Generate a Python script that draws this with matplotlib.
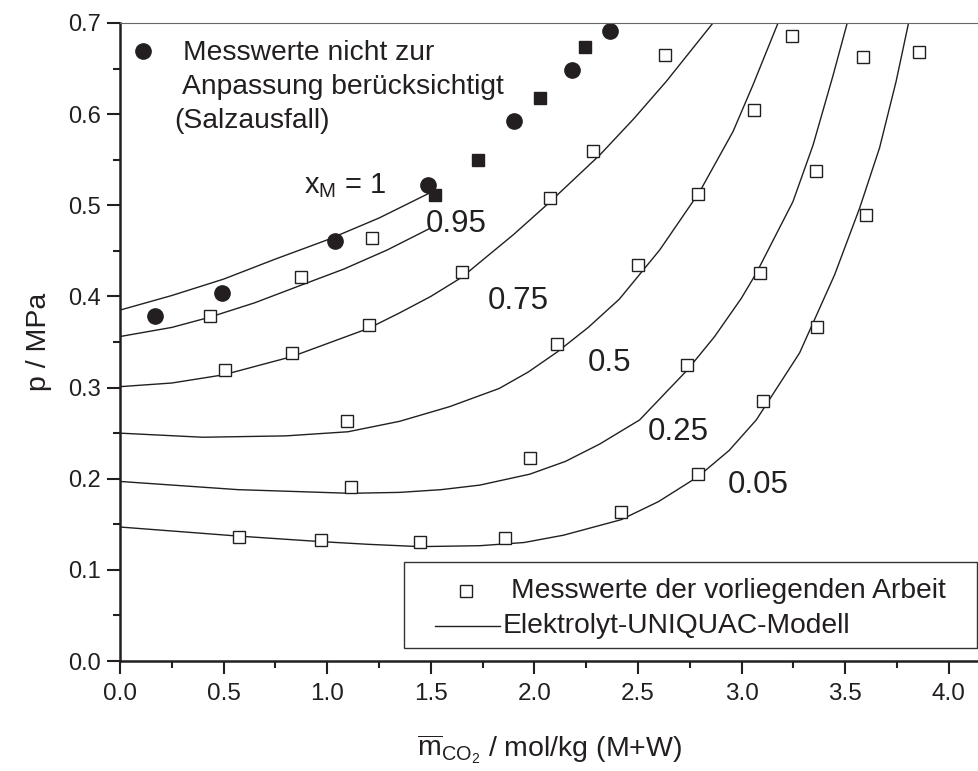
import matplotlib
matplotlib.use("Agg")
import matplotlib.pyplot as plt
from matplotlib import font_manager
from matplotlib.patches import Rectangle
from matplotlib.ticker import MultipleLocator, FormatStrFormatter

# ---- data ----
# model curves (Elektrolyt-UNIQUAC), one per x_M
curve_100_x = [0.0, 0.25, 0.5, 0.75, 1.0, 1.25, 1.49]
curve_100_y = [0.385, 0.401, 0.419, 0.441, 0.462, 0.486, 0.513]

curve_095_x = [0.0, 0.25, 0.43, 0.65, 0.87, 1.08, 1.29, 1.49]
curve_095_y = [0.356, 0.366, 0.377, 0.393, 0.412, 0.430, 0.451, 0.474]

curve_075_x = [0.0, 0.25, 0.5, 0.83, 1.2, 1.35, 1.5, 1.65, 1.74, 1.9, 2.06, 2.315, 2.48, 2.637, 2.862]
curve_075_y = [0.301, 0.305, 0.314, 0.334, 0.365, 0.382, 0.400, 0.421, 0.438, 0.468, 0.5005, 0.555, 0.595, 0.636, 0.70]

curve_050_x = [0.0, 0.4, 0.8, 1.1, 1.35, 1.59, 1.83, 1.97, 2.11, 2.26, 2.41, 2.605, 2.798, 2.959, 3.055, 3.176]
curve_050_y = [0.250, 0.2455, 0.247, 0.2515, 0.263, 0.279, 0.299, 0.317, 0.339, 0.366, 0.397, 0.451, 0.515, 0.581, 0.632, 0.70]

curve_025_x = [0.0, 0.57, 1.11, 1.35, 1.55, 1.737, 1.978, 2.15, 2.315, 2.508, 2.737, 2.87, 2.999, 3.071, 3.248, 3.345, 3.441, 3.51]
curve_025_y = [0.197, 0.188, 0.184, 0.185, 0.188, 0.193, 0.205, 0.219, 0.238, 0.2645, 0.319, 0.356, 0.398, 0.4255, 0.504, 0.566, 0.642, 0.70]

curve_005_x = [0.0, 0.574, 0.968, 1.2, 1.447, 1.737, 1.95, 2.14, 2.418, 2.6, 2.79, 2.94, 3.071, 3.28, 3.449, 3.57, 3.666, 3.746, 3.806]
curve_005_y = [0.147, 0.137, 0.131, 0.128, 0.1255, 0.1265, 0.130, 0.138, 0.155, 0.175, 0.2023, 0.231, 0.2645, 0.338, 0.4237, 0.497, 0.563, 0.636, 0.70]

# measured points of this work (open squares)
meas_095_x = [0.434, 0.876, 1.215]
meas_095_y = [0.378, 0.421, 0.464]
meas_075_x = [0.507, 0.83, 1.20, 1.651, 2.074, 2.283, 2.629]
meas_075_y = [0.319, 0.338, 0.369, 0.427, 0.508, 0.560, 0.665]
meas_050_x = [1.095, 2.111, 2.50, 2.79, 3.06, 3.245]
meas_050_y = [0.263, 0.3476, 0.435, 0.5126, 0.604, 0.686]
meas_025_x = [1.114, 1.978, 2.737, 3.087, 3.357, 3.586]
meas_025_y = [0.1906, 0.2225, 0.325, 0.4262, 0.538, 0.663]
meas_005_x = [0.574, 0.968, 1.447, 1.86, 2.418, 2.79, 3.104, 3.362, 3.602, 3.854]
meas_005_y = [0.136, 0.1328, 0.1306, 0.1354, 0.163, 0.205, 0.2854, 0.366, 0.4888, 0.668]

# points not used for fitting (salt precipitation)
salt_100_x = [0.17, 0.49, 1.04, 1.486, 1.90, 2.182, 2.364]
salt_100_y = [0.379, 0.404, 0.461, 0.522, 0.592, 0.648, 0.6915]
salt_095_x = [1.52, 1.73, 2.029, 2.245]
salt_095_y = [0.511, 0.550, 0.618, 0.674]

curve_labels = ["0.95", "0.75", "0.5", "0.25", "0.05"]
label_x = [1.476, 1.777, 2.259, 2.549, 2.931]
label_y = [0.4705, 0.386, 0.318, 0.2426, 0.1848]

# ---- fonts ----
installed = {f.name for f in font_manager.fontManager.ttflist}
REG = "Liberation Sans"
NARROW = "Liberation Sans Narrow" if "Liberation Sans Narrow" in installed else REG
plt.rcParams["font.family"] = [REG, "DejaVu Sans"]
plt.rcParams["mathtext.fontset"] = "custom"
plt.rcParams["mathtext.rm"] = NARROW
plt.rcParams["mathtext.it"] = NARROW

INK = "#231f20"

fig = plt.figure(figsize=(9.79, 7.71), dpi=100)
ax = fig.add_axes([120 / 979, 1 - 661 / 771, 859 / 979, 638 / 771])

curves = [
    (curve_100_x, curve_100_y), (curve_095_x, curve_095_y),
    (curve_075_x, curve_075_y), (curve_050_x, curve_050_y),
    (curve_025_x, curve_025_y), (curve_005_x, curve_005_y),
]
for cx, cy in curves:
    ax.plot(cx, cy, color=INK, lw=1.0, solid_joinstyle="round")

open_sq = dict(ls="none", marker="s", ms=8.5, mfc="white", mec=INK, mew=1.0)
for mx, my in [(meas_095_x, meas_095_y), (meas_075_x, meas_075_y),
               (meas_050_x, meas_050_y), (meas_025_x, meas_025_y),
               (meas_005_x, meas_005_y)]:
    ax.plot(mx, my, **open_sq)

ax.plot(salt_100_x, salt_100_y, ls="none", marker="o", ms=11, color=INK)
ax.plot(salt_095_x, salt_095_y, ls="none", marker="s", ms=9, color=INK)

# curve labels
for t, lx, ly in zip(curve_labels, label_x, label_y):
    ax.text(lx, ly, t, fontsize=22.5, color=INK, va="baseline", ha="left")
ax.text(0.89, 0.513, r"x$_{\mathrm{M}}$ = 1", fontsize=21, color=INK,
        va="baseline", ha="left")

# upper-left note
ax.plot([0.109], [0.6693], ls="none", marker="o", ms=11, color=INK)
ax.text(0.304, 0.6597, "Messwerte nicht zur", fontsize=20.3, color=INK, va="baseline")
ax.text(0.297, 0.622, "Anpassung berücksichtigt", fontsize=20.3, color=INK, va="baseline")
ax.text(0.26, 0.5847, "(Salzausfall)", fontsize=20.3, color=INK, va="baseline")

# lower-right legend box
ax.add_patch(Rectangle((1.370, 0.0143), 2.764, 0.0944, fill=False,
                       ec="#333333", lw=1.0, zorder=3))
ax.plot([1.672], [0.0768], **open_sq)
ax.text(1.886, 0.0768, "Messwerte der vorliegenden Arbeit", fontsize=20.3,
        color=INK, va="center")
ax.plot([1.519, 1.833], [0.0379, 0.0379], color=INK, lw=1.0)
ax.text(1.846, 0.0379, "Elektrolyt-UNIQUAC-Modell", fontsize=20.3,
        color=INK, va="center")

# axes styling
ax.set_xlim(0, 4.146)
ax.set_ylim(0, 0.7)
ax.xaxis.set_major_locator(MultipleLocator(0.5))
ax.xaxis.set_minor_locator(MultipleLocator(0.25))
ax.yaxis.set_major_locator(MultipleLocator(0.1))
ax.yaxis.set_minor_locator(MultipleLocator(0.05))
ax.xaxis.set_major_formatter(FormatStrFormatter("%.1f"))
ax.yaxis.set_major_formatter(FormatStrFormatter("%.1f"))

for s in ("left", "bottom"):
    ax.spines[s].set_linewidth(1.8)
    ax.spines[s].set_color(INK)
ax.spines["top"].set_linewidth(0.8)
ax.spines["top"].set_color("#666666")
ax.spines["right"].set_visible(False)

ax.tick_params(which="major", direction="out", length=9.5, width=1.5,
               color=INK, top=False, right=False)
ax.tick_params(which="minor", direction="out", length=5, width=1.5,
               color=INK, top=False, right=False)
ax.tick_params(axis="x", labelsize=17.5, pad=6, labelcolor=INK)
ax.tick_params(axis="y", labelsize=17, pad=4, labelcolor=INK)
for lab in ax.get_xticklabels():
    lab.set_fontfamily(NARROW)

ax.set_ylabel("p / MPa", fontsize=20.5, color=INK, labelpad=12)
ax.set_xlabel(r"$\overline{\mathrm{m}}_{\mathrm{CO_2}}$ / mol/kg (M+W)",
              fontsize=20.5, color=INK, fontfamily=NARROW, labelpad=20)

fig.savefig("out.png", dpi=100)
